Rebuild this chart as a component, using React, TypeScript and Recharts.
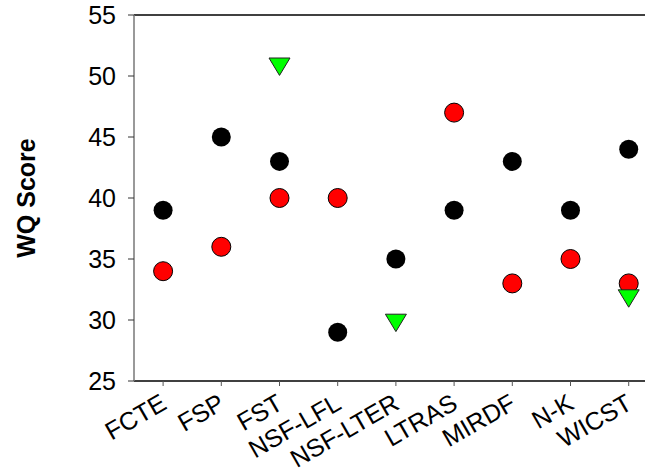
import React from 'react'
import { ScatterChart, Scatter, XAxis, YAxis, ReferenceLine } from 'recharts'

const categories = ['FCTE', 'FSP', 'FST', 'NSF-LFL', 'NSF-LTER', 'LTRAS', 'MIRDF', 'N-K', 'WICST']
const blackValues: (number | null)[] = [39, 45, 43, 29, 35, 39, 43, 39, 44]
const redValues: (number | null)[] = [34, 36, 40, 40, null, 47, 33, 35, 33]
const greenValues: (number | null)[] = [null, null, 51, null, 30, null, null, null, 32]
const yTicks = [25, 30, 35, 40, 45, 50, 55]

const toPoints = (vals: (number | null)[]) =>
  vals
    .map((v, i) => (v == null ? null : { x: i, y: v }))
    .filter(Boolean) as { x: number; y: number }[]

const FONT = '"Liberation Sans", Arial, sans-serif'

const BlackDot = (p: any) => <circle cx={p.cx} cy={p.cy} r={9.5} fill="#000" />
const RedDot = (p: any) => <circle cx={p.cx} cy={p.cy} r={9.5} fill="#ff0000" stroke="#000" strokeWidth={1} />
const GreenTri = (p: any) => (
  <polygon
    points={`${p.cx - 10.5},${p.cy - 5.8} ${p.cx + 10.5},${p.cy - 5.8} ${p.cx},${p.cy + 11.6}`}
    fill="#00ff00"
    stroke="#222"
    strokeWidth={1}
  />
)

const XTick = ({ x, y, payload }: any) => (
  <g transform={`translate(${x + 5},${y + 20})`}>
    <text x={0} y={0} textAnchor="end" transform="rotate(-30)" fontSize={25} fontFamily={FONT} fill="#000">
      {categories[payload.value]}
    </text>
  </g>
)

export default function App() {
  return (
    <div style={{ position: 'absolute', left: 0, top: 0, width: 645, height: 468, overflow: 'hidden', background: '#fff' }}>
      <ScatterChart width={645} height={468} margin={{ top: 15, right: 0, bottom: 0, left: 0 }}>
        <XAxis
          type="number"
          dataKey="x"
          domain={[-0.5, 8.28]}
          ticks={[0, 1, 2, 3, 4, 5, 6, 7, 8]}
          allowDataOverflow
          height={87}
          axisLine={{ stroke: '#000', strokeWidth: 1.5 }}
          tickLine={{ stroke: '#555' }}
          tickSize={5}
          tick={<XTick />}
        />
        <YAxis
          type="number"
          dataKey="y"
          domain={[25, 55]}
          ticks={yTicks}
          width={134}
          axisLine={{ stroke: '#777', strokeWidth: 1.5 }}
          tickLine={{ stroke: '#333' }}
          tickSize={6}
          tickMargin={12}
          tick={{ fontSize: 25, fontFamily: FONT, fill: '#000' }}
          label={() => (
            <text
              x={35}
              y={198}
              transform="rotate(-90, 35, 198)"
              textAnchor="middle"
              fontSize={25}
              fontWeight="bold"
              fontFamily={FONT}
              fill="#000"
            >
              WQ Score
            </text>
          )}
        />
        <ReferenceLine y={55} stroke="#000" strokeWidth={1.5} />
        <Scatter data={toPoints(blackValues)} shape={BlackDot} isAnimationActive={false} />
        <Scatter data={toPoints(redValues)} shape={RedDot} isAnimationActive={false} />
        <Scatter data={toPoints(greenValues)} shape={GreenTri} isAnimationActive={false} />
      </ScatterChart>
    </div>
  )
}
